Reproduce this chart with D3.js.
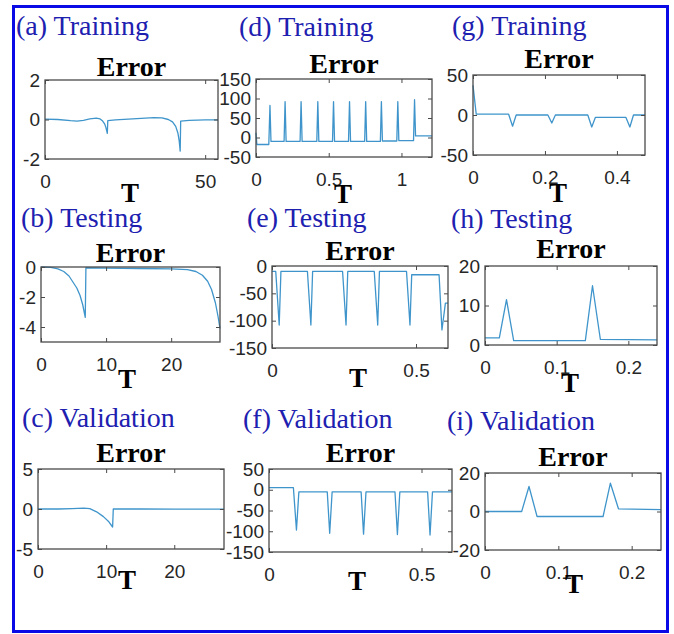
<!DOCTYPE html>
<html>
<head>
<meta charset="utf-8">
<script src="https://cdn.jsdelivr.net/npm/d3@7"></script>
<style>
  html, body { margin: 0; padding: 0; background: #fff; }
  svg { display: block; }
  .serif { font-family: "Liberation Serif", "Times New Roman", Tinos, "DejaVu Serif", serif; }
  .sans { font-family: "Liberation Sans", Arial, Helvetica, "DejaVu Sans", sans-serif; }
</style>
</head>
<body>
<svg id="fig" width="674" height="634"></svg>
<script>
// Error traces (time T, error) for each data split of the three models.
const trainingA = [[0,0.02],[4,0],[8,-0.06],[10,-0.08],[12,-0.04],[14,0.03],[16,0.07],[17.2,0.03],[18,-0.08],[18.6,-0.22],[19,-0.4],[19.3,-0.6],[19.45,-0.7],[19.6,-0.06],[22,-0.02],[26,0.02],[30,0.06],[34,0.1],[36.5,0.08],[38.5,0],[39.8,-0.12],[40.8,-0.35],[41.5,-0.7],[41.9,-1.1],[42.2,-1.6],[42.35,-0.08],[45,-0.04],[50,-0.02],[54,-0.02]];
const testingB = [[0,0],[1.5,-0.03],[2.6,-0.12],[3.5,-0.3],[4.3,-0.6],[4.9,-1],[5.5,-1.4],[6,-1.9],[6.4,-2.5],[6.8,-3.35],[6.9,-0.05],[10,-0.08],[15,-0.1],[20,-0.12],[22.5,-0.18],[23.8,-0.3],[24.8,-0.55],[25.6,-0.95],[26.2,-1.5],[26.8,-2.4],[27.2,-3.3],[27.5,-4.1]];
const validationC = [[0,0],[3,0],[5,0.05],[6.7,0.12],[7.6,0.05],[8.6,-0.35],[9.6,-0.95],[10.4,-1.6],[10.95,-2.25],[11.05,0],[15,0],[20,-0.02],[27.3,-0.02]];
const trainingD = [[0,12],[0.006,-18],[0.088,-18],[0.096,82],[0.103,-10],
  [0.193,-10],[0.2,92],[0.207,-10],[0.303,-10],[0.31,92],[0.317,-10],
  [0.418,-10],[0.425,92],[0.432,-10],[0.526,-10],[0.533,92],[0.54,-10],
  [0.636,-10],[0.643,92],[0.65,-10],[0.747,-10],[0.754,92],[0.761,-10],
  [0.855,-10],[0.862,92],[0.869,-9],[0.968,-9],[0.975,92],[0.982,-8],
  [1.083,-8],[1.09,97],[1.097,4],[1.21,4]];
const testingE = [[0,-10],[0.013,-10],[0.025,-108],[0.031,-10],
  [0.123,-10],[0.135,-108],[0.141,-10],[0.245,-10],[0.257,-108],[0.263,-10],
  [0.355,-10],[0.367,-108],[0.373,-10],[0.467,-10],[0.479,-108],[0.485,-16],
  [0.58,-16],[0.59,-117],[0.602,-68],[0.611,-68]];
const validationF = [[0,5],[0.08,5],[0.09,-97],[0.098,-5],
  [0.191,-5],[0.199,-105],[0.207,-5],[0.302,-5],[0.31,-107],[0.318,-5],
  [0.413,-5],[0.421,-108],[0.429,-5],[0.52,-5],[0.528,-109],[0.536,-5],[0.6,-5]];
const trainingG = [[0,37],[0.009,1],[0.099,1],[0.11,-14],[0.12,0],
  [0.208,0],[0.219,-10],[0.229,0],[0.319,0],[0.33,-15],[0.34,-3],
  [0.425,-3],[0.436,-15],[0.446,0],[0.478,0]];
const testingH = [[0,1.8],[0.02,1.8],[0.03,11.5],[0.04,1.1],[0.14,1.1],[0.15,15],[0.161,1.4],[0.24,1.3]];
const validationI = [[0,0],[0.05,0],[0.06,13],[0.071,-2.6],[0.161,-2.6],[0.171,14.7],[0.182,1.4],[0.24,1]];

// Axis limits and ticks
const xLimA = [0, 54],   yLimA = [-2, 2],    xTicksA = [0, 50],        yTicksA = [-2, 0, 2];
const xLimB = [0, 27.5], yLimB = [-5, 0],    xTicksB = [0, 10, 20],    yTicksB = [-4, -2, 0];
const xLimC = [0, 27.3], yLimC = [-5, 5],    xTicksC = [0, 10, 20],    yTicksC = [-5, 0, 5];
const xLimD = [0, 1.21], yLimD = [-50, 150], xTicksD = [0, 0.5, 1],    yTicksD = [-50, 0, 50, 100, 150];
const xLimE = [0, 0.611],yLimE = [-150, 0],  xTicksE = [0, 0.5],       yTicksE = [-150, -100, -50, 0];
const xLimF = [0, 0.6],  yLimF = [-150, 50], xTicksF = [0, 0.5],       yTicksF = [-150, -100, -50, 0, 50];
const xLimG = [0, 0.478],yLimG = [-50, 50],  xTicksG = [0, 0.2, 0.4],  yTicksG = [-50, 0, 50];
const xLimH = [0, 0.24], yLimH = [0, 20],    xTicksH = [0, 0.1, 0.2],  yTicksH = [0, 10, 20];
const xLimI = [0, 0.24], yLimI = [-20, 20],  xTicksI = [0, 0.1, 0.2],  yTicksI = [-20, 0, 20];

const panelTitles = ["(a) Training", "(b) Testing", "(c) Validation",
                     "(d) Training", "(e) Testing", "(f) Validation",
                     "(g) Training", "(h) Testing", "(i) Validation"];
const plotTitle = "Error";
const xLabel = "T";

// Placement of each panel: plot box [x0, y0, x1, y1], caption, title and T label anchors
const panels = [
  { title: panelTitles[0], data: trainingA,   xl: xLimA, yl: yLimA, xt: xTicksA, yt: yTicksA, box: [45, 80, 218, 159],  cap: [16, 35],  eb: 76,  tl: [130, 202] },
  { title: panelTitles[1], data: testingB,    xl: xLimB, yl: yLimB, xt: xTicksB, yt: yTicksB, box: [41, 267, 220, 342], cap: [21, 227], eb: 262, tl: [127, 388] },
  { title: panelTitles[2], data: validationC, xl: xLimC, yl: yLimC, xt: xTicksC, yt: yTicksC, box: [38, 469, 224, 549], cap: [22, 427], eb: 462, tl: [127, 589] },
  { title: panelTitles[3], data: trainingD,   xl: xLimD, yl: yLimD, xt: xTicksD, yt: yTicksD, box: [256, 79, 432, 157], cap: [239, 36], eb: 73,  tl: [343, 203] },
  { title: panelTitles[4], data: testingE,    xl: xLimE, yl: yLimE, xt: xTicksE, yt: yTicksE, box: [272, 266, 448, 348],cap: [247, 227],eb: 260, tl: [358, 387] },
  { title: panelTitles[5], data: validationF, xl: xLimF, yl: yLimF, xt: xTicksF, yt: yTicksF, box: [269, 469, 452, 552],cap: [243, 428],eb: 462, tl: [357, 590] },
  { title: panelTitles[6], data: trainingG,   xl: xLimG, yl: yLimG, xt: xTicksG, yt: yTicksG, box: [473, 75, 645, 155], cap: [452, 35], eb: 68,  tl: [558, 202] },
  { title: panelTitles[7], data: testingH,    xl: xLimH, yl: yLimH, xt: xTicksH, yt: yTicksH, box: [485, 266, 657, 345],cap: [451, 228],eb: 258, tl: [570, 392] },
  { title: panelTitles[8], data: validationI, xl: xLimI, yl: yLimI, xt: xTicksI, yt: yTicksI, box: [485, 473, 661, 550],cap: [447, 430],eb: 466, tl: [574, 593] }
];

const svg = d3.select("#fig");
const LINE = "#3f95cb", AXIS = "#4a4a4a", TICKTXT = "#262626", CAPTION = "#2020b0";

svg.append("rect").attr("width", 674).attr("height", 634).attr("fill", "#fff");

const fmt = v => String(v);

panels.forEach(p => {
  const [x0, y0, x1, y1] = p.box;
  const x = d3.scaleLinear().domain(p.xl).range([x0, x1]);
  const y = d3.scaleLinear().domain(p.yl).range([y1, y0]);
  const g = svg.append("g");

  // caption
  g.append("text").attr("class", "serif").attr("x", p.cap[0]).attr("y", p.cap[1])
    .style("font-size", "28px").attr("fill", CAPTION)
    .text(p.title);

  // title
  g.append("text").attr("class", "serif").attr("x", (x0 + x1) / 2).attr("y", p.eb)
    .attr("text-anchor", "middle")
    .style("font-weight", "bold").style("font-size", "28px").attr("fill", "#000")
    .text(plotTitle);

  // trace
  g.append("path").datum(p.data)
    .attr("fill", "none").attr("stroke", LINE).attr("stroke-width", 1.3)
    .attr("stroke-linejoin", "round")
    .attr("d", d3.line().x(d => x(d[0])).y(d => y(d[1])));

  // axes with inward ticks on all four sides
  const styleAxis = sel => {
    sel.attr("font-family", null).attr("font-size", null);
    sel.selectAll(".domain").remove();
    sel.selectAll(".tick line").attr("stroke", AXIS).attr("stroke-width", 1);
    sel.selectAll(".tick text").attr("class", "sans").attr("fill", TICKTXT)
      .style("font-size", "19px");
  };
  g.append("g").attr("transform", `translate(0,${y1})`)
    .call(d3.axisBottom(x).tickValues(p.xt).tickFormat(fmt).tickSizeInner(-4).tickSizeOuter(0).tickPadding(16))
    .call(styleAxis);
  g.append("g").attr("transform", `translate(0,${y0})`)
    .call(d3.axisTop(x).tickValues(p.xt).tickFormat("").tickSizeInner(-4).tickSizeOuter(0))
    .call(styleAxis);
  g.append("g").attr("transform", `translate(${x0},0)`)
    .call(d3.axisLeft(y).tickValues(p.yt).tickFormat(fmt).tickSizeInner(-4).tickSizeOuter(0).tickPadding(5))
    .call(styleAxis);
  g.append("g").attr("transform", `translate(${x1},0)`)
    .call(d3.axisRight(y).tickValues(p.yt).tickFormat("").tickSizeInner(-4).tickSizeOuter(0))
    .call(styleAxis);

  // plot box
  g.append("rect").attr("x", x0).attr("y", y0)
    .attr("width", x1 - x0).attr("height", y1 - y0)
    .attr("fill", "none").attr("stroke", AXIS).attr("stroke-width", 1.3);

  // x label
  g.append("text").attr("class", "serif").attr("x", p.tl[0]).attr("y", p.tl[1])
    .attr("text-anchor", "middle")
    .style("font-weight", "bold").style("font-size", "27px").attr("fill", "#000")
    .text(xLabel);
});

// outer frame
svg.append("rect").attr("x", 13.5).attr("y", 6.5).attr("width", 654).attr("height", 625)
  .attr("fill", "none").attr("stroke", "#0a0ae6").attr("stroke-width", 3);
</script>
</body>
</html>
